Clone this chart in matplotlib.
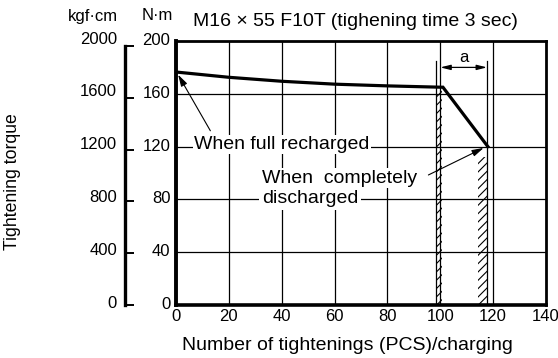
import matplotlib
matplotlib.use("Agg")
import matplotlib.pyplot as plt
from matplotlib.patches import Rectangle
from matplotlib.transforms import ScaledTranslation

plt.rcParams['font.family'] = ['Liberation Sans', 'DejaVu Sans']
plt.rcParams['hatch.linewidth'] = 0.8

# Data
counts = [0, 20, 40, 60, 80, 100, 101, 118]
torque_nm = [176.5, 172.5, 169.5, 167.3, 166, 165, 165, 120]
x_ticks = [0, 20, 40, 60, 80, 100, 120, 140]
nm_ticks = [0, 40, 80, 120, 160, 200]
kgf_ticks = [0, 400, 800, 1200, 1600, 2000]
KGF_TO_NM = 0.0980665
band_left = (98.2, 100.6, 164)
band_right = (114.3, 117.7, 112)

W, H = 558, 358
fig = plt.figure(figsize=(W / 100, H / 100), dpi=100)
L, R, B, T = 176, 546, 305, 41
pos = [L / W, 1 - B / H, (R - L) / W, (B - T) / H]
ax = fig.add_axes(pos)
ax.set_xlim(0, 140)
ax.set_ylim(0, 200)

# grid
for xv in x_ticks[1:-1]:
    ax.axvline(xv, color='black', lw=0.9, zorder=1)
for yv in nm_ticks[1:-1]:
    ax.axhline(yv, color='black', lw=0.9, zorder=1)

# extra vertical lines
ax.plot([band_left[0]] * 2, [0, 185], color='black', lw=0.9, zorder=1)
ax.plot([band_right[1]] * 2, [0, 185], color='black', lw=0.9, zorder=1)

# hatched bands
ax.add_patch(Rectangle((band_left[0], 0), band_left[1] - band_left[0], band_left[2],
                       fill=False, hatch='////', lw=0, zorder=1))
ax.add_patch(Rectangle((band_right[0], 0), band_right[1] - band_right[0], band_right[2],
                       fill=False, hatch='////', lw=0, zorder=1))

# curve
ax.plot(counts, torque_nm, color='black', lw=2.3, zorder=4, solid_joinstyle='miter')

# "a" arrow
ax.annotate('', xy=(100, 180), xytext=(117.7, 180),
            arrowprops=dict(arrowstyle='<|-|>,head_length=0.6,head_width=0.15',
                            color='black', lw=0.9, shrinkA=0, shrinkB=0))
ax.text(108.9, 187.5, 'a', ha='center', va='center', fontsize=12)

bb = dict(facecolor='white', edgecolor='none', pad=1.0)
FS = 14
ax.text(7.0, 121.5, 'When full recharged', ha='left', va='center', fontsize=FS,
        bbox=bb, zorder=3)
ax.annotate('', xy=(0.8, 174.5), xytext=(13.0, 132),
            arrowprops=dict(arrowstyle='-|>,head_length=0.7,head_width=0.2',
                            color='black', lw=0.8, shrinkA=0, shrinkB=0), zorder=5)
ax.text(32.5, 96.0, 'When  completely', ha='left', va='center', fontsize=FS,
        bbox=bb, zorder=3)
ax.text(32.5, 80.8, 'discharged', ha='left', va='center', fontsize=FS,
        bbox=dict(facecolor='white', edgecolor='none', pad=2.0), zorder=3)
ax.annotate('', xy=(116.4, 119), xytext=(95.5, 98.5),
            arrowprops=dict(arrowstyle='-|>,head_length=0.7,head_width=0.2',
                            color='black', lw=0.8, shrinkA=0, shrinkB=0), zorder=5)

for s in ax.spines.values():
    s.set_linewidth(2.0)
    s.set_zorder(6)
ax.spines['left'].set_linewidth(2.8)
ax.spines['bottom'].set_linewidth(2.6)

ax.set_xticks(x_ticks)
ax.set_xticklabels([str(v) for v in x_ticks])
ax.set_yticks(nm_ticks)
ax.set_yticklabels([str(v) for v in nm_ticks])
ax.tick_params(axis='both', length=0, labelsize=12)
ax.tick_params(axis='y', pad=4)
ax.tick_params(axis='x', pad=3)
up = ScaledTranslation(0, 2 / 100, fig.dpi_scale_trans)
for lab in ax.get_yticklabels():
    lab.set_transform(lab.get_transform() + up)

# kgf·cm axis (ticks at physical positions)
ax2 = fig.add_axes(pos)
ax2.patch.set_visible(False)
ax2.set_ylim(0, 200 / KGF_TO_NM)
ax2.set_xticks([])
for k in ['top', 'right', 'bottom']:
    ax2.spines[k].set_visible(False)
ax2.spines['left'].set_position(('outward', 51.5 * 0.72))
ax2.spines['left'].set_bounds(0, 2000)
ax2.spines['left'].set_linewidth(2.4)
ax2.set_yticks(kgf_ticks)
ax2.set_yticklabels([])
ax2.tick_params(axis='y', direction='in', length=6.2, width=1.4)
# kgf·cm labels sit level with the N·m labels
for kv, nv in zip(kgf_ticks, nm_ticks):
    ax.text((117 - L) / (R - L), nv, str(kv), transform=ax.get_yaxis_transform() + up,
            ha='right', va='center', fontsize=12)

fig.text(93 / W, 1 - 16 / H, 'kgf·cm', ha='center', va='center', fontsize=12)
fig.text(157 / W, 1 - 16 / H, 'N·m', ha='center', va='center', fontsize=12)
fig.text(193 / W, 1 - 21 / H, 'M16 × 55 F10T (tighening time 3 sec)', ha='left',
         va='center', fontsize=FS)
fig.text(347 / W, 1 - 345 / H, 'Number of tightenings (PCS)/charging', ha='center',
         va='center', fontsize=FS)
fig.text(13 / W, 1 - 182 / H, 'Tightening torque', ha='center', va='center',
         rotation=90, fontsize=12.7)

fig.savefig('out.png', dpi=100)
